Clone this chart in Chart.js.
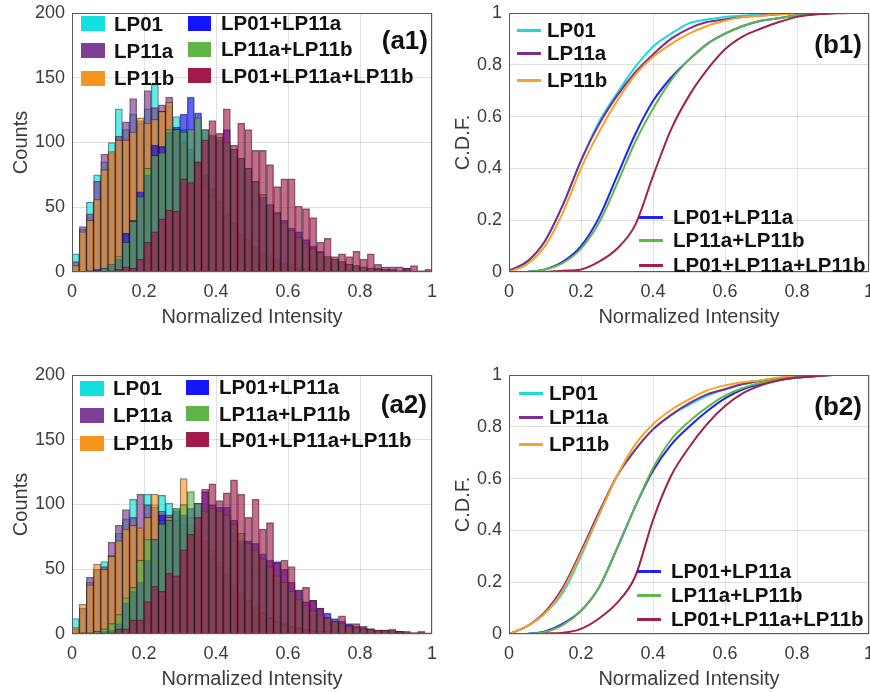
<!DOCTYPE html>
<html>
<head>
<meta charset="utf-8">
<script src="https://cdn.jsdelivr.net/npm/chart.js@4.4.1/dist/chart.umd.min.js"></script>
<style>
  body { margin:0; background:#fff; width:870px; height:692px; position:relative; overflow:hidden;
         font-family:"Liberation Sans", Arial, sans-serif; }
  .panel { position:absolute; }
  .lg { position:absolute; font-weight:bold; font-size:20.5px; color:#111; white-space:nowrap;
        transform:translateY(-50%); line-height:24px; }
  .sw { position:absolute; }
  .tag { position:absolute; font-weight:bold; font-size:26px; color:#111; white-space:nowrap;
         transform:translate(-100%,-50%); line-height:30px; }
</style>
</head>
<body>
<div class="panel" style="left:0;top:0;width:440px;height:335px"><canvas id="a1"></canvas></div>
<div class="panel" style="left:440px;top:0;width:430px;height:335px"><canvas id="b1"></canvas></div>
<div class="panel" style="left:0;top:362px;width:440px;height:335px"><canvas id="a2"></canvas></div>
<div class="panel" style="left:440px;top:362px;width:430px;height:335px"><canvas id="b2"></canvas></div>
<div id="legends"></div>
<script>
// series
const seriesNames = ['LP01', 'LP11a', 'LP11b', 'LP01+LP11a', 'LP11a+LP11b', 'LP01+LP11a+LP11b'];

// histogram bins (centres, width 0.02)
const binCenters = [0.01,0.03,0.05,0.07,0.09,0.11,0.13,0.15,0.17,0.19,
                    0.21,0.23,0.25,0.27,0.29,0.31,0.33,0.35,0.37,0.39,
                    0.41,0.43,0.45,0.47,0.49,0.51,0.53,0.55,0.57,0.59,
                    0.61,0.63,0.65,0.67,0.69,0.71,0.73,0.75,0.77,0.79,
                    0.81,0.83,0.85,0.87,0.89,0.91,0.93,0.95,0.97,0.99];

// (a1) counts
const a1LP01 = [14,33,54,75,85,100,126,110,122,115, 126,145,124,128,120,110,95,85,72,60, 50,42,33,26,20,15,11,8,6,4, 3,2,1,1,1,0,0,1,0,0, 0,0,0,0,0,0,0,0,0,0];
const a1LP11a = [8,35,45,70,91,92,105,116,134,117, 140,127,129,135,110,100,90,85,75,65, 55,45,38,30,25,20,15,12,10,7, 6,4,3,2,2,1,1,1,2,0, 1,0,0,0,1,0,0,0,1,0];
const a1LP11b = [5,31,40,56,79,93,102,102,108,119, 115,118,124,131,110,100,92,80,68,58, 50,42,35,28,22,17,13,10,8,6, 4,3,2,2,1,1,1,0,0,0, 0,0,0,0,0,0,0,0,0,0];
const a1LP01_11a = [0,0,1,2,3,5,10,30,40,62, 75,98,97,108,112,122,135,123,110,105, 102,110,95,88,80,70,58,52,46,40, 34,31,25,20,16,12,10,8,6,5, 4,3,3,2,2,1,3,1,0,0];
const a1LP11a_11b = [0,0,1,1,3,6,12,23,39,58, 80,90,92,110,110,108,110,119,110,106, 104,100,95,88,80,70,60,52,45,38, 32,27,22,18,15,12,10,8,6,5, 4,3,2,2,1,1,1,0,0,0];
const a1All = [0,0,0,0,0,1,2,4,3,10, 23,31,41,48,47,72,69,85,102,117, 107,126,98,115,110,94,94,83,66,72, 72,51,49,42,23,26,12,14,12,16, 10,14,6,4,4,4,3,5,1,2];

// (a2) counts
const a2LP01 = [12,20,40,50,56,61,78,89,104,80, 108,100,107,101,96,90,85,75,65,58, 50,43,36,30,25,20,16,13,10,8, 6,5,4,3,2,2,1,1,0,1, 0,0,0,0,0,0,0,0,0,0];
const a2LP11a = [4,20,44,50,52,71,84,96,90,108, 100,98,95,92,88,85,80,75,68,60, 52,45,38,32,26,21,17,13,10,8, 6,5,4,3,2,2,1,1,0,0, 1,0,0,0,0,0,1,0,0,0];
const a2LP11b = [5,23,38,54,50,60,72,81,84,82, 90,108,88,90,88,120,90,80,72,65, 55,46,38,31,25,20,16,12,9,7, 5,4,3,2,2,1,1,0,0,0, 0,0,0,0,0,0,0,0,0,0];
const a2LP01_11a = [0,1,1,1,2,3,8,24,33,40, 57,73,92,88,95,92,97,101,110,100, 98,98,88,72,72,70,62,57,56,50, 40,34,25,26,20,16,12,10,8,6, 5,4,3,3,2,2,1,1,1,0];
const a2LP11a_11b = [0,1,1,2,4,8,15,28,36,57, 73,73,85,88,97,100,110,101,95,97, 95,92,85,78,70,65,58,52,45,40, 33,27,22,18,15,12,10,8,6,5, 4,4,3,3,4,2,1,1,1,0];
const a2All = [0,0,0,0,0,1,4,4,11,11, 25,37,33,47,45,65,77,90,112,116, 103,109,119,108,90,104,81,86,55,57, 52,34,36,26,20,13,10,14,7,8, 6,4,3,3,3,2,2,1,2,1];

// C.D.F. sample points
const cdfX = [0,0.05,0.1,0.15,0.2,0.25,0.3,0.35,0.4,0.45,0.5,0.55,0.6,0.65,0.7,0.75,0.8,0.85,0.9,0.95,1];

const b1LP01 = [0.005,0.04,0.12,0.26,0.43,0.58,0.69,0.79,0.87,0.92,0.96,0.975,0.985,0.99,0.995,0.998,1,1,1,1,1];
const b1LP11a = [0.005,0.04,0.12,0.26,0.43,0.57,0.68,0.77,0.84,0.90,0.94,0.965,0.975,0.985,0.99,0.995,1,1,1,1,1];
const b1LP11b = [0,0.03,0.10,0.23,0.40,0.54,0.66,0.76,0.83,0.88,0.92,0.95,0.97,0.985,0.99,0.995,0.998,1,1,1,1];
const b1LP01_11a = [null,0,0.01,0.04,0.10,0.21,0.37,0.53,0.66,0.75,0.82,0.88,0.92,0.95,0.97,0.98,0.99,0.995,1,1,1];
const b1LP11a_11b = [null,0,0.01,0.035,0.09,0.19,0.34,0.50,0.63,0.74,0.82,0.88,0.92,0.95,0.97,0.98,0.99,0.995,1,1,1];
const b1All = [null,null,0,0.005,0.01,0.04,0.09,0.18,0.37,0.55,0.68,0.78,0.86,0.91,0.94,0.965,0.985,0.995,0.998,1,1];

const b2LP01 = [0,0.03,0.08,0.16,0.30,0.46,0.61,0.71,0.79,0.845,0.885,0.92,0.945,0.965,0.978,0.988,0.995,1,1,1,1];
const b2LP11a = [0,0.03,0.085,0.18,0.32,0.47,0.61,0.71,0.79,0.845,0.89,0.925,0.945,0.965,0.978,0.988,0.995,1,1,1,1];
const b2LP11b = [0,0.03,0.08,0.17,0.31,0.46,0.61,0.73,0.81,0.865,0.906,0.94,0.96,0.972,0.98,0.99,0.995,1,1,1,1];
const b2LP01_11a = [null,0,0.01,0.04,0.09,0.18,0.33,0.49,0.63,0.73,0.80,0.86,0.91,0.945,0.965,0.98,0.99,0.995,1,1,1];
const b2LP11a_11b = [null,0,0.008,0.035,0.09,0.18,0.33,0.49,0.64,0.75,0.82,0.875,0.92,0.95,0.97,0.983,0.992,0.996,1,1,1];
const b2All = [null,null,0.002,0.005,0.02,0.06,0.12,0.22,0.44,0.61,0.72,0.81,0.88,0.93,0.96,0.98,0.99,0.995,1,1,1];

// look
const barRgb = ['0,225,225', '126,47,142', '247,148,30', '0,0,255', '90,180,70', '162,20,70'];
const swatch = ['#12e0de', '#7e3f98', '#f7941d', '#1414ff', '#5fb548', '#a31b4b'];
const lineCol = ['#1fd8d8', '#7e2f8e', '#f7a128', '#1f1fff', '#5db847', '#a2204f'];

Chart.defaults.font.family = '"Liberation Sans", Arial, sans-serif';
Chart.defaults.color = '#3c3c3c';

const boxPlugin = {
  id: 'box',
  afterDatasetsDraw(chart) {
    const {ctx, chartArea: a} = chart;
    ctx.save();
    ctx.strokeStyle = '#5a5a5a';
    ctx.lineWidth = 1;
    ctx.strokeRect(a.left + 0.5, a.top + 0.5, a.right - a.left - 1, a.bottom - a.top - 1);
    ctx.restore();
  }
};

// 0.2 -> "0.2", 1 -> "1" (matlab style, no trailing zero)
const tickFmt = v => String(Math.round(v * 100) / 100);

function axes(yTitle, yMax, yStep, yWidth, titlePad) {
  return {
    x: {
      type: 'linear', min: 0, max: 1, offset: false,
      grid: { color: 'rgba(0,0,0,0.12)', drawTicks: false, offset: false },
      border: { display: false },
      ticks: { stepSize: 0.2, padding: 9, font: { size: 18 }, maxRotation: 0, callback: tickFmt },
      title: { display: true, text: 'Normalized Intensity', font: { size: 20 }, padding: { top: 0, bottom: 6 } },
      afterFit(s) { s.height = 63; s.paddingLeft = 0; s.paddingRight = 0; }
    },
    y: {
      min: 0, max: yMax,
      grid: { color: 'rgba(0,0,0,0.12)', drawTicks: false },
      border: { display: false },
      ticks: { stepSize: yStep, padding: 7, font: { size: 18 }, callback: tickFmt },
      title: { display: true, text: yTitle, font: { size: 20 }, padding: { top: titlePad, bottom: 0 } },
      afterFit(s) { s.width = yWidth; s.paddingTop = 0; s.paddingBottom = 0; }
    }
  };
}

function makeHist(id, series) {
  new Chart(document.getElementById(id), {
    type: 'bar',
    data: {
      datasets: series.map((vals, i) => ({
        label: seriesNames[i],
        data: binCenters.map((x, j) => ({ x: x, y: vals[j] })),
        backgroundColor: 'rgba(' + barRgb[i] + ',0.62)',
        borderColor: 'rgba(30,30,30,0.6)',
        borderWidth: 0.8,
        barPercentage: 1,
        categoryPercentage: 1,
        grouped: false,
        order: 5 - i
      }))
    },
    options: {
      responsive: true, maintainAspectRatio: false, animation: false,
      layout: { padding: { left: 0, right: 8, top: 13, bottom: 0 } },
      plugins: { legend: { display: false }, tooltip: { enabled: false } },
      scales: axes('Counts', 200, 50, 72, 9)
    },
    plugins: [boxPlugin]
  });
}

function makeCdf(id, series) {
  new Chart(document.getElementById(id), {
    type: 'line',
    data: {
      datasets: series.map((vals, i) => ({
        label: seriesNames[i],
        data: cdfX.map((x, j) => ({ x: x, y: vals[j] })),
        borderColor: lineCol[i],
        borderWidth: 2,
        pointRadius: 0,
        fill: false,
        cubicInterpolationMode: 'monotone',
        order: 5 - i
      }))
    },
    options: {
      responsive: true, maintainAspectRatio: false, animation: false,
      layout: { padding: { left: 0, right: 1, top: 13, bottom: 0 } },
      plugins: { legend: { display: false }, tooltip: { enabled: false } },
      scales: axes('C.D.F.', 1, 0.2, 69, 11)
    },
    plugins: [boxPlugin]
  });
}

makeHist('a1', [a1LP01, a1LP11a, a1LP11b, a1LP01_11a, a1LP11a_11b, a1All]);
makeHist('a2', [a2LP01, a2LP11a, a2LP11b, a2LP01_11a, a2LP11a_11b, a2All]);
makeCdf('b1', [b1LP01, b1LP11a, b1LP11b, b1LP01_11a, b1LP11a_11b, b1All]);
makeCdf('b2', [b2LP01, b2LP11a, b2LP11b, b2LP01_11a, b2LP11a_11b, b2All]);

// legends and panel tags
const lgBox = document.getElementById('legends');
function text(cls, x, y, s) {
  const d = document.createElement('div');
  d.className = cls; d.style.left = x + 'px'; d.style.top = y + 'px'; d.textContent = s;
  lgBox.appendChild(d);
}
function patch(i, x, y, w, h) {
  const d = document.createElement('div');
  d.className = 'sw';
  d.style.cssText = 'left:' + x + 'px;top:' + (y - h / 2) + 'px;width:' + w + 'px;height:' + h + 'px;background:' + (h > 5 ? swatch[i] : lineCol[i]);
  lgBox.appendChild(d);
}
function barLegend(sx1, tx1, rows1, sx2, tx2, rows2) {
  for (let i = 0; i < 3; i++) { patch(i, sx1, rows1[i], 24, 15); text('lg', tx1, rows1[i], seriesNames[i]); }
  for (let i = 0; i < 3; i++) { patch(i + 3, sx2, rows2[i], 23, 15); text('lg', tx2, rows2[i], seriesNames[i + 3]); }
}
function lineLegend(lx1, tx1, rows1, lx2, tx2, rows2) {
  for (let i = 0; i < 3; i++) { patch(i, lx1, rows1[i], 24, 3); text('lg', tx1, rows1[i], seriesNames[i]); }
  for (let i = 0; i < 3; i++) { patch(i + 3, lx2, rows2[i], 24, 3); text('lg', tx2, rows2[i], seriesNames[i + 3]); }
}
barLegend(81, 114, [23.5, 50.5, 78], 188, 221, [23, 49, 75.5]);
barLegend(80, 113, [388, 415, 443], 186, 219, [387, 413.5, 439.5]);
lineLegend(517, 547, [30, 53, 80], 639, 673, [217, 240, 265]);
lineLegend(519, 549, [393, 417, 444], 637, 671, [571, 595, 619]);
text('tag', 428, 40, '(a1)');
text('tag', 427, 404, '(a2)');
text('tag', 862, 44, '(b1)');
text('tag', 862, 406, '(b2)');
</script>
</body>
</html>
